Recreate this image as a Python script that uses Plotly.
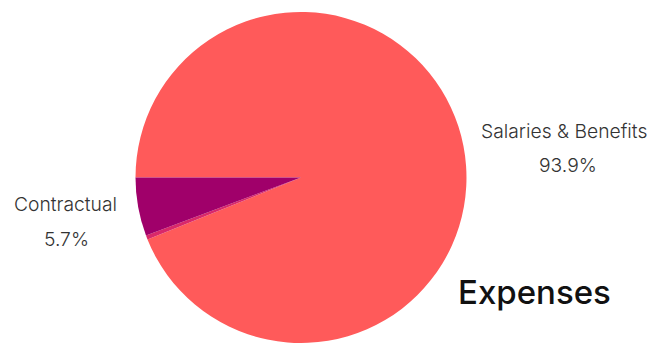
import plotly.graph_objects as go

# Expense breakdown (percent of total)
categories = ["Salaries & Benefits", "Other", "Contractual"]
shares = [93.9, 0.4, 5.7]
colors = ["#FF5A5A", "#D9286A", "#A0006A"]
labelled = ["Contractual", "Salaries & Benefits"]
chart_title = "Expenses"

W, H = 651, 343

fig = go.Figure(
    go.Pie(
        labels=categories,
        values=shares,
        sort=False,
        direction="clockwise",
        rotation=-90,
        marker=dict(colors=colors, line=dict(width=0)),
        textinfo="none",
        hoverinfo="skip",
        domain=dict(x=[0.2081, 0.7166], y=[0.0, 0.965]),
        showlegend=False,
    )
)

# label placement (pixels from top-left): name line and percent line
label_pos = {
    "Contractual": ((65, 204), (66, 239)),
    "Salaries & Benefits": ((564, 131), (568, 165)),
}

annotations = []
for name in labelled:
    val = shares[categories.index(name)]
    (nx, ny), (px, py) = label_pos[name]
    for text, x, y in ((name, nx, ny), (f"{val:.1f}%", px, py)):
        annotations.append(dict(
            text=text, x=x / W, y=1 - y / H, xref="paper", yref="paper",
            xanchor="center", yanchor="middle", showarrow=False,
            font=dict(family="Inter", size=19.3, color="#333333", weight=300),
        ))

annotations.append(dict(
    text=chart_title, x=456 / W, y=1 - 292 / H, xref="paper", yref="paper",
    xanchor="left", yanchor="middle", showarrow=False,
    font=dict(family="Inter", size=33, color="#111111", weight=500),
))

fig.update_layout(
    width=W, height=H,
    margin=dict(l=0, r=0, t=0, b=0),
    paper_bgcolor="white", plot_bgcolor="white",
    annotations=annotations,
)

fig.write_html("out.html")
